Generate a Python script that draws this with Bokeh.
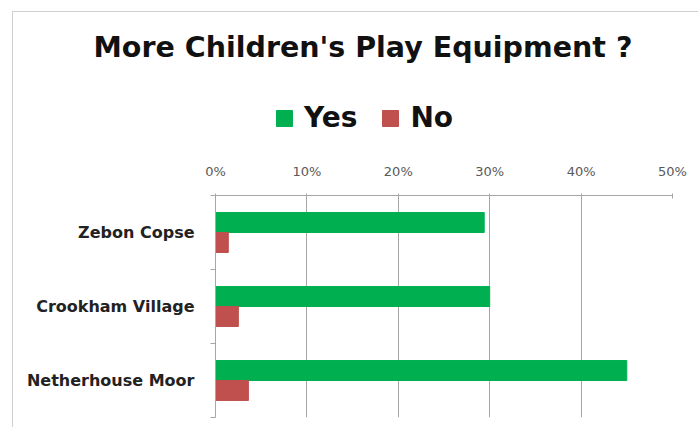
from bokeh.plotting import figure
from bokeh.layouts import column
from bokeh.models import (ColumnDataSource, Range1d, FixedTicker, PrintfTickFormatter,
                          Legend, LegendItem, Spacer)
from bokeh.transform import dodge
from bokeh.embed import file_html
from bokeh.resources import INLINE

categories = ["Zebon Copse", "Crookham Village", "Netherhouse Moor"]
yes_values = [29.4, 30.0, 45.0]
no_values = [1.4, 2.5, 3.6]
x_ticks = [0, 10, 20, 30, 40, 50]
series_names = ["Yes", "No"]
title_text = "More Children's Play Equipment ?"

n = len(categories)
centers = [n - i - 0.5 for i in range(n)]
source = ColumnDataSource(dict(cat=categories, y=centers, yes=yes_values, no=no_values))

GREEN = "#00B050"
RED = "#C0504D"
FONT = "DejaVu Sans"
W = 698
TOP_GAP = 28
HEAD_H = 150 - TOP_GAP
BODY_H = 437 - 150
FRAME_LEFT = 215

# ---------- header figure: title + legend ----------
head = figure(width=W, height=HEAD_H, output_backend="svg", toolbar_location=None,
              x_range=Range1d(0, 50), y_range=Range1d(0, n),
              x_axis_location=None, y_axis_location=None,
              min_border_left=FRAME_LEFT, min_border_right=26, min_border_top=0, min_border_bottom=0)
head.grid.visible = False
head.outline_line_color = None
head.border_fill_alpha = 0
head.background_fill_alpha = 0
hy = head.hbar(y="y", left=0, right="yes", height=0.27, color=GREEN, source=source, visible=False)
hn = head.hbar(y="y", left=0, right="no", height=0.27, color=RED, source=source, visible=False)

head.title.text = title_text
head.title.text_font = FONT
head.title.text_font_style = "bold"
head.title.text_font_size = "28.5px"
head.title.text_color = "#111111"
head.title.align = "left"
head.title.offset = 93 - FRAME_LEFT
head.title.standoff = 0

legend = Legend(items=[LegendItem(label=series_names[0], renderers=[hy]),
                       LegendItem(label=series_names[1], renderers=[hn])],
                orientation="horizontal", location=(274 - FRAME_LEFT, 16),
                label_text_font=FONT, label_text_font_style="bold",
                label_text_font_size="28px", label_text_color="#111111",
                glyph_width=20, glyph_height=20, spacing=23, label_standoff=10,
                border_line_color=None, background_fill_alpha=0, padding=0, margin=0)
head.add_layout(legend)

# ---------- body figure: bars ----------
p = figure(width=W, height=BODY_H, output_backend="svg", toolbar_location=None,
           x_range=Range1d(0, 50), y_range=Range1d(0, n), x_axis_location="above",
           min_border_left=FRAME_LEFT, min_border_right=26, min_border_bottom=20, min_border_top=45)

bar_h = 0.27
p.hbar(y=dodge("y", bar_h / 2, range=p.y_range), left=0, right="yes", height=bar_h,
       color=GREEN, source=source)
p.hbar(y=dodge("y", -bar_h / 2, range=p.y_range), left=0, right="no", height=bar_h,
       color=RED, source=source)

xa = p.xaxis[0]
xa.ticker = FixedTicker(ticks=x_ticks)
xa.formatter = PrintfTickFormatter(format="%d%%")
xa.axis_line_color = "#a6a6a6"
xa.major_tick_line_color = "#a6a6a6"
xa.major_tick_out = 2
xa.major_tick_in = 3
xa.minor_tick_line_color = None
xa.major_label_text_font = FONT
xa.major_label_text_font_size = "13px"
xa.major_label_text_color = "#595959"
xa.major_label_standoff = 15

ya = p.yaxis[0]
ya.ticker = FixedTicker(ticks=centers, minor_ticks=list(range(n + 1)))
ya.major_label_overrides = {c: cat for c, cat in zip(centers, categories)}
ya.major_tick_line_color = None
ya.minor_tick_line_color = "#a6a6a6"
ya.minor_tick_out = 5
ya.minor_tick_in = 0
ya.axis_line_color = "#a6a6a6"
ya.major_label_text_font = FONT
ya.major_label_text_font_style = "bold"
ya.major_label_text_font_size = "16px"
ya.major_label_text_color = "#222222"
ya.major_label_standoff = 15

p.xgrid.ticker = FixedTicker(ticks=x_ticks)
p.xgrid.grid_line_color = "#a6a6a6"
p.ygrid.grid_line_color = None
p.outline_line_color = None
p.border_fill_alpha = 0
p.background_fill_color = "white"

layout = column(Spacer(width=W, height=TOP_GAP), head, p, spacing=0)
layout.styles = {
    "background-color": "white",
    "background-image": "linear-gradient(#cfcfcf, #cfcfcf), linear-gradient(#cfcfcf, #cfcfcf)",
    "background-position": "12px 11px, 12px 11px",
    "background-size": "1px 416px, 690px 1px",
    "background-repeat": "no-repeat",
}

open("out.html", "w").write(file_html(layout, INLINE))
